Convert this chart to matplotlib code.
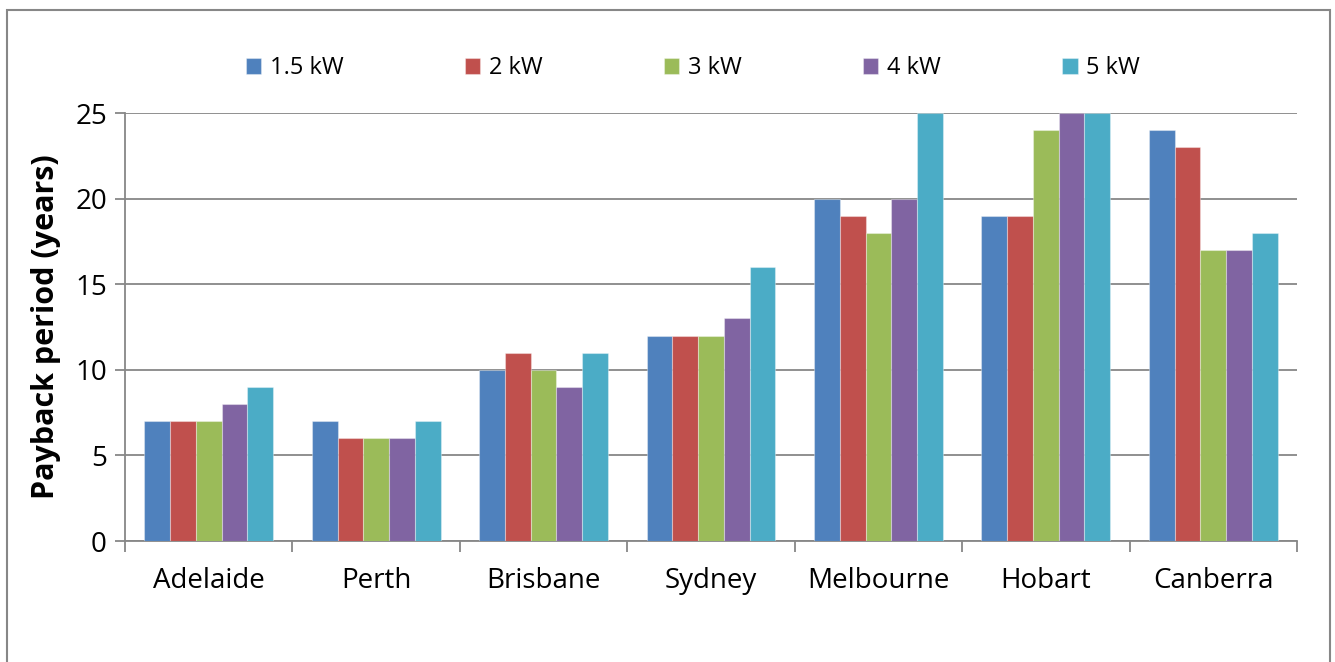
import matplotlib.pyplot as plt
import numpy as np
from matplotlib.patches import Rectangle

plt.rcParams['font.family'] = ['Open Sans', 'DejaVu Sans']

cities = ["Adelaide", "Perth", "Brisbane", "Sydney", "Melbourne", "Hobart", "Canberra"]
sizes = ["1.5 kW", "2 kW", "3 kW", "4 kW", "5 kW"]
payback_15kw = [7, 7, 10, 12, 20, 19, 24]
payback_2kw = [7, 6, 11, 12, 19, 19, 23]
payback_3kw = [7, 6, 10, 12, 18, 24, 17]
payback_4kw = [8, 6, 9, 13, 20, 25, 17]
payback_5kw = [9, 7, 11, 16, 25, 25, 18]
yticks = [0, 5, 10, 15, 20, 25]

series = [payback_15kw, payback_2kw, payback_3kw, payback_4kw, payback_5kw]
colors = ["#4F81BD", "#C0504D", "#9BBB59", "#8064A2", "#4BACC6"]
grey = "#878787"

fig = plt.figure(figsize=(13.35, 6.62), dpi=100)
ax = fig.add_axes([125 / 1335, 1 - 541 / 662, (1297 - 125) / 1335, (541 - 113) / 662])

# outer chart frame
fig.patches.append(Rectangle((7 / 1335, -0.05), (1330 - 7) / 1335, 1.05 - 10 / 662,
                             transform=fig.transFigure, fill=False,
                             edgecolor=grey, linewidth=1.5))

x = np.arange(len(cities))
w = 1 / 6.5
for j, (vals, c, lab) in enumerate(zip(series, colors, sizes)):
    ax.bar(x + (j - 2) * w, vals, width=w, color=c, label=lab,
           edgecolor=(1, 1, 1, 0.35), linewidth=0.8, zorder=3)

ax.set_xlim(-0.5, len(cities) - 0.5)
ax.set_ylim(0, 25)
ax.set_yticks(yticks)
ax.yaxis.grid(True, color=grey, linewidth=1.3, zorder=0)
ax.set_axisbelow(True)

for s in ["top", "right"]:
    ax.spines[s].set_visible(False)
for s in ["left", "bottom"]:
    ax.spines[s].set_color(grey)
    ax.spines[s].set_linewidth(1.3)

ax.set_xticks(x)
ax.set_xticklabels(cities, fontsize=20)
ax.set_xticks(np.arange(-0.5, len(cities)), minor=True)
ax.tick_params(axis='x', which='major', length=0, pad=19)
ax.tick_params(axis='x', which='minor', length=8, width=1.3, color=grey)
ax.tick_params(axis='y', length=7, width=1.3, color=grey, labelsize=20, pad=6)

ax.set_ylabel("Payback period (years)", fontsize=22, fontweight='bold', labelpad=10)

fig.legend(loc='center', bbox_to_anchor=(0.519, 0.897), ncol=5, frameon=False,
           fontsize=17, handlelength=0.65, handleheight=0.65, handletextpad=0.35,
           columnspacing=5.15)

fig.savefig("out.png", dpi=100)
